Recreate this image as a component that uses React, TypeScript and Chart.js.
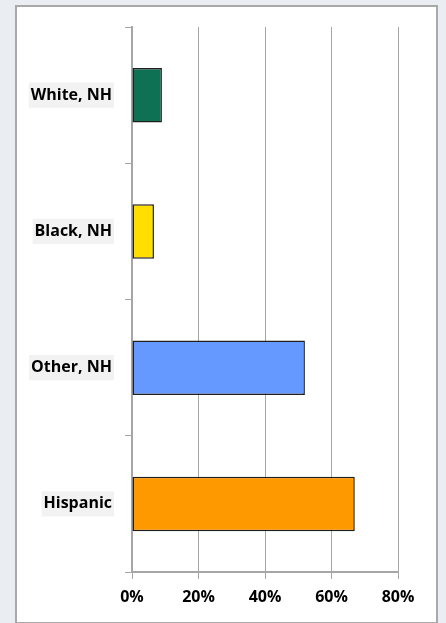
import React, { useEffect, useRef } from "react";
import { Chart, registerables } from "chart.js";

Chart.register(...registerables);

const categories = ["White, NH", "Black, NH", "Other, NH", "Hispanic"];
const values = [9.0, 6.6, 52.0, 67.0];
const barColors = ["#0e7153", "#ffde00", "#6699ff", "#ff9900"];
const xTicks = [0, 20, 40, 60, 80];

export default function App() {
  const ref = useRef<HTMLCanvasElement | null>(null);

  useEffect(() => {
    if (!ref.current) return;
    const chart = new Chart(ref.current, {
      type: "bar",
      data: {
        labels: categories,
        datasets: [
          {
            data: values,
            backgroundColor: barColors,
            borderColor: "#1f1f1f",
            borderWidth: 1.5,
            borderSkipped: false,
            barPercentage: 0.4,
            categoryPercentage: 1,
          },
        ],
      },
      options: {
        indexAxis: "y",
        animation: false,
        responsive: false,
        events: [],
        layout: { padding: { left: 0, right: 48, top: 27, bottom: 0 } },
        plugins: { legend: { display: false }, tooltip: { enabled: false } },
        scales: {
          x: {
            min: xTicks[0],
            max: xTicks[xTicks.length - 1],
            afterBuildTicks: (scale: any) => {
              scale.ticks = xTicks.map((v) => ({ value: v }));
            },
            afterFit: (scale: any) => {
              scale.height = 51;
            },
            grid: {
              color: "#a6a6a6",
              lineWidth: 1,
              drawTicks: true,
              tickLength: 7,
              tickColor: "#a6a6a6",
            },
            border: { display: true, color: "#a6a6a6", width: 2 },
            ticks: {
              padding: 9,
              color: "#000",
              font: { family: "Open Sans", weight: "bold", size: 16 },
              callback: (v: any) => v + "%",
            },
          },
          y: {
            afterFit: (scale: any) => {
              scale.width = 132;
            },
            grid: {
              drawOnChartArea: false,
              drawTicks: true,
              tickLength: 7,
              tickColor: "#a6a6a6",
              offset: true,
            },
            border: { display: true, color: "#a6a6a6", width: 2 },
            ticks: {
              padding: 13,
              color: "#000",
              font: { family: "Open Sans", weight: "bold", size: 16 },
              showLabelBackdrop: true,
              backdropColor: "#f2f2f2",
              backdropPadding: { top: 3, bottom: 3, left: 2, right: 2 },
            },
          },
        },
      },
    });
    return () => chart.destroy();
  }, []);

  return (
    <div
      style={{
        position: "fixed",
        left: 0,
        top: 0,
        width: 446,
        height: 623,
        background: "#eaedf1",
        overflow: "hidden",
      }}
    >
      <div
        style={{
          position: "absolute",
          left: 15,
          top: 5,
          width: 419,
          height: 615,
          background: "#ffffff",
          border: "2px solid #a9a9a9",
        }}
      />
      <canvas
        ref={ref}
        width={446}
        height={623}
        style={{ position: "absolute", left: 0, top: 0, width: 446, height: 623 }}
      />
    </div>
  );
}
